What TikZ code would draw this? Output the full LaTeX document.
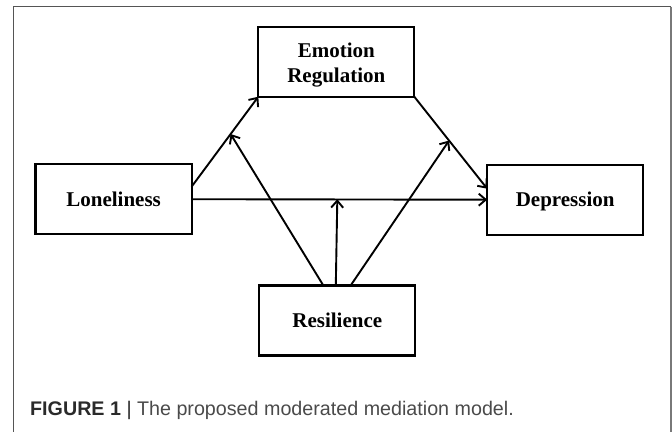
\documentclass[tikz,border=0pt]{standalone}
\usepackage{fontspec}
\setmainfont{Liberation Serif}
\newfontfamily\capfont{Liberation Sans}
\usetikzlibrary{arrows.meta}
\definecolor{framegray}{HTML}{6A6A6A}
\definecolor{capdark}{HTML}{2A2A2A}
\definecolor{capgray}{HTML}{4A4A4A}
\tikzset{
  boxfont/.style={font=\bfseries\fontsize{21bp}{25bp}\selectfont, text=black},
  box/.style={draw=black, line width=2.2bp, rectangle, inner sep=0pt, outer sep=0pt,
    minimum width=156bp, minimum height=70bp, align=center, boxfont},
  oneline/.style={text height=17bp, text depth=3bp},
  arr/.style={draw=black, line width=1.9bp,
    -{Straight Barb[length=7bp, width=12bp, line width=1.9bp]}}
}
\begin{document}
\begin{tikzpicture}[x=1bp, y=-1bp]
\useasboundingbox (0,0) rectangle (672,431);
% open figure frame
\draw[framegray!80!black, line width=1.3bp] (13.5,440) -- (13.5,6.7) -- (670.7,6.7);
\draw[framegray!90, line width=2bp] (670.7,6.7) -- (670.7,440);

% variables
\node[box, label={[boxfont, align=center, inner sep=0pt, yshift=-3bp]center:Emotion\\Regulation}]
  (er) at (336.3,61.7) {};
\node[box, oneline] (lon) at (113.6,199.2) {Loneliness};
\node[box, oneline] (dep) at (565.2,199.7) {Depression};
\node[box, oneline] (res) at (337.3,320.4) {Resilience};

% direct and mediated paths
\draw[arr] ([yshift=12.5bp]lon.east) -- coordinate[pos=0.585] (m1) (er.south west);
\draw[arr] (er.south east) -- coordinate[pos=0.477] (m2) ([yshift=11bp]dep.west);
\draw[arr] (lon.east) -- (dep.west);
\coordinate (m3) at (res.north |- lon.east);

% moderation by resilience
\draw[arr] ([xshift=-14bp]res.north) -- (m1);
\draw[arr] ([xshift=-1.5bp]res.north) -- (m3);
\draw[arr] ([xshift=13.4bp]res.north) -- (m2);

% caption
\node[anchor=base west, inner sep=0pt, font=\capfont\fontsize{19.7bp}{23bp}\selectfont]
  (cap) at (30,415.7)
  {\textcolor{capdark}{\textbf{FIGURE 1} |} \textcolor{capgray}{The proposed moderated mediation model.}};
\end{tikzpicture}
\end{document}
